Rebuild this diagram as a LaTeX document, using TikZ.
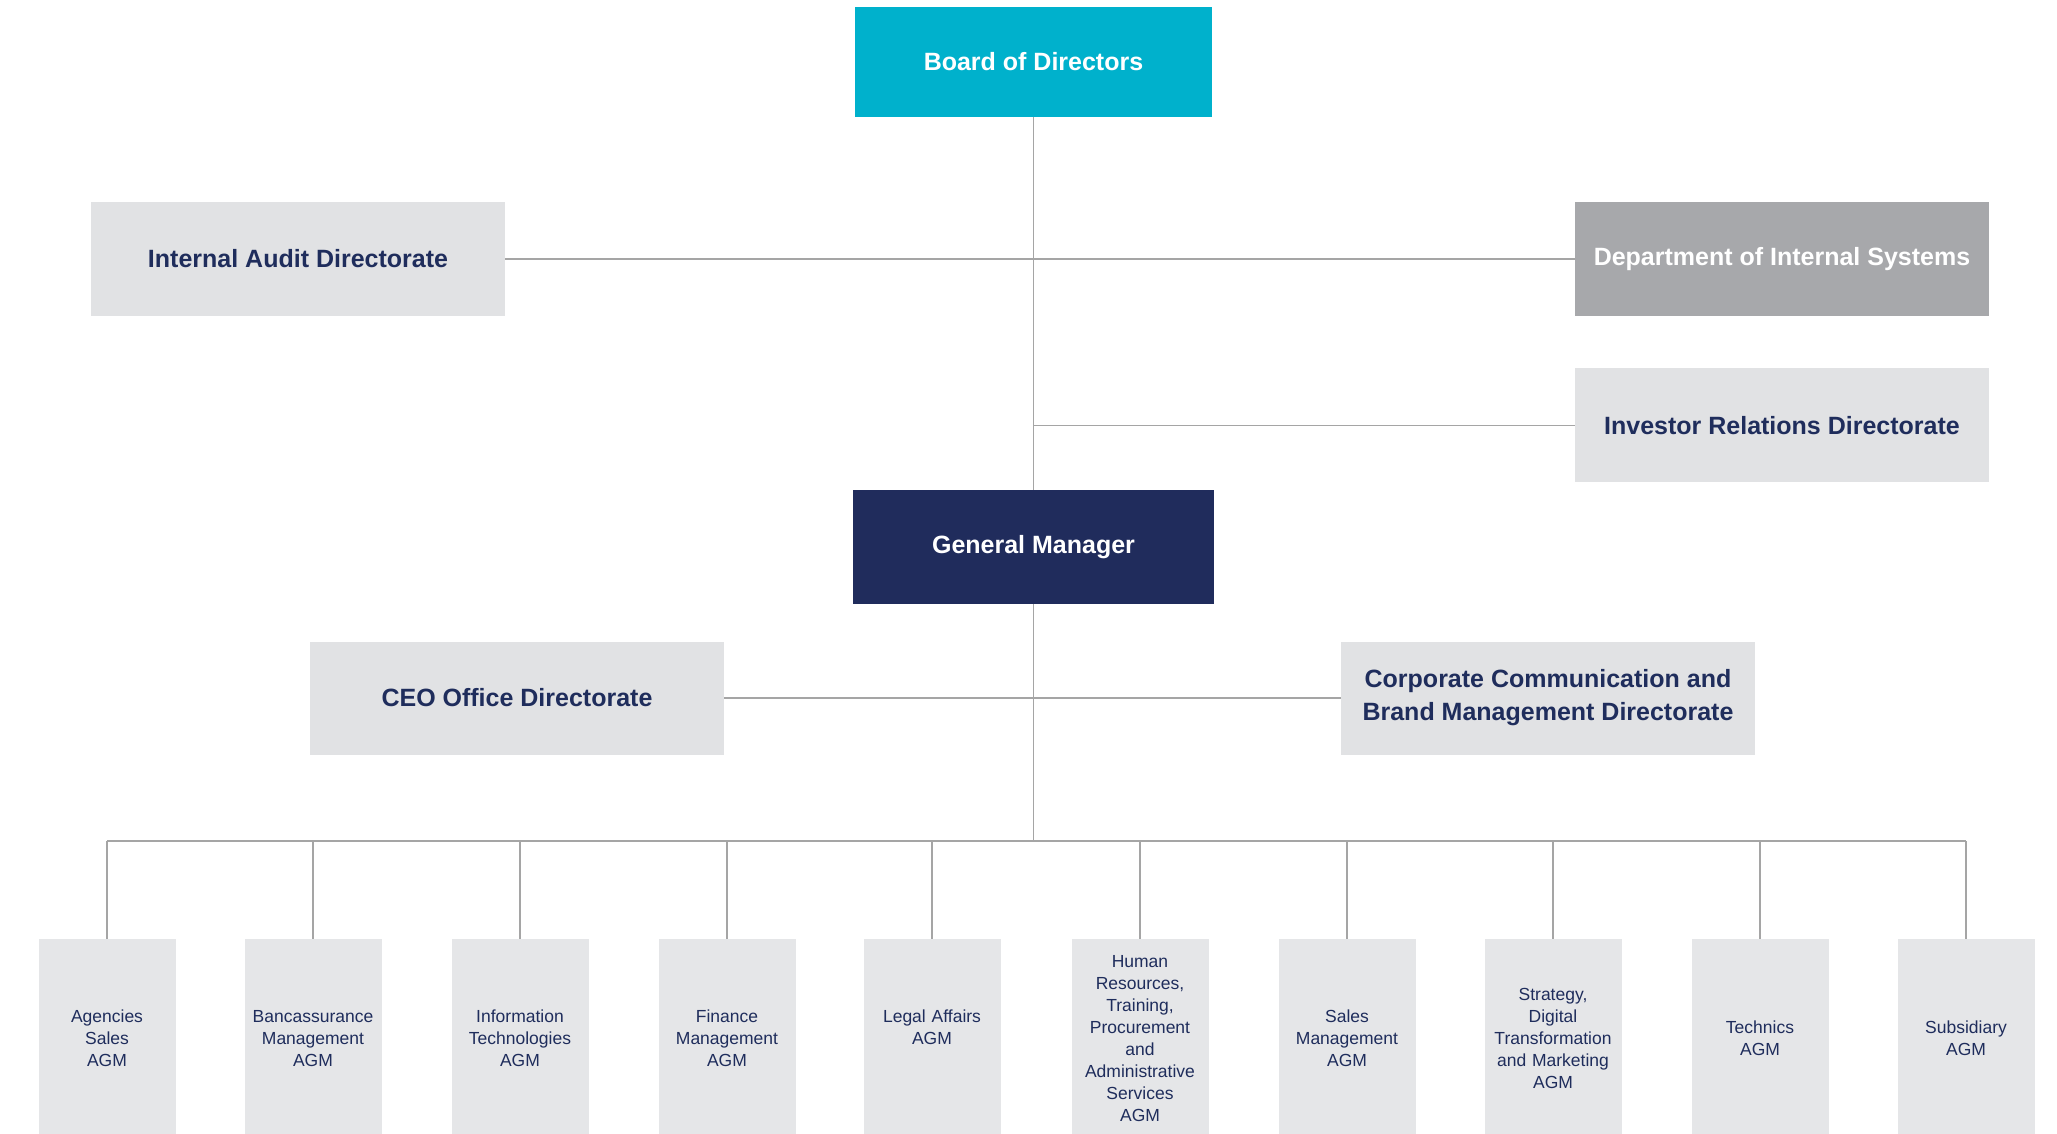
\documentclass[tikz,border=0pt]{standalone}
\usepackage{fontspec}
\setmainfont{Liberation Sans}
\usetikzlibrary{positioning, calc}

\definecolor{boardcyan}{RGB}{0,177,204}
\definecolor{gmnavy}{RGB}{32,44,92}
\definecolor{boxgrey}{RGB}{225,226,228}
\definecolor{agmgrey}{RGB}{229,230,232}
\definecolor{sysgrey}{RGB}{167,168,171}
\definecolor{textnavy}{RGB}{31,45,92}
\definecolor{linegrey}{RGB}{165,165,165}

\begin{document}
\begin{tikzpicture}[x=1pt, y=-1pt,
    link/.style={draw=linegrey, line width=1.4pt},
    unitbox/.style={inner sep=0pt, align=center, minimum height=114pt,
        font=\bfseries\fontsize{25}{33}\selectfont},
    dirbox/.style={unitbox, fill=boxgrey, text=textnavy, minimum width=414pt},
    agmbox/.style={inner sep=0pt, align=center, fill=agmgrey, text=textnavy,
        minimum width=137pt, text width=134pt, minimum height=198pt,
        anchor=north, font=\fontsize{17.5}{22}\selectfont}]

    % Canvas
    \clip (0,0) rectangle (2057,1133);
    \fill[white] (0,0) rectangle (2057,1133);

    % --- Top: board and the units reporting to it ---
    \node[unitbox, fill=boardcyan, text=white, minimum width=357pt,
          minimum height=110pt] (board) at (1033.5,62) {Board of Directors};
    \node[dirbox] (audit) at (298,259) {Internal Audit Directorate};
    \node[unitbox, fill=sysgrey, text=white, minimum width=414pt]
          (systems) at (1782,259) {Department of Internal Systems};
    \node[dirbox, below=52pt of systems] (investor) {Investor Relations Directorate};

    % --- Middle: general manager and staff directorates ---
    \node[unitbox, fill=gmnavy, text=white, minimum width=361pt]
          (gm) at (1033.5,547) {General Manager};
    \node[dirbox, minimum height=113pt] (ceo) at (517,698) {CEO Office Directorate};
    \node[dirbox, minimum height=113pt] (corp) at (1548,698)
          {Corporate Communication and\\Brand Management Directorate};

    \draw[link] (board) -- (gm);
    \draw[link] (audit) -- (systems);
    \draw[link] (board |- investor) -- (investor);
    \draw[link] (ceo) -- (corp);

    % --- Bottom: assistant general managers ---
    \def\busY{841}
    \def\boxY{939}
    \foreach \x/\name/\txt in {
        107/agency/{Agencies\\Sales\\AGM},
        313/banca/{Bancassurance\\Management\\AGM},
        520/infotech/{Information\\Technologies\\AGM},
        727/finance/{Finance\\Management\\AGM},
        932/legal/{Legal Affairs\\AGM\\\mbox{}},
        1140/hr/{Human\\Resources,\\Training,\\Procurement\\and\\Administrative\\Services\\AGM},
        1347/sales/{Sales\\Management\\AGM},
        1553/strategy/{Strategy,\\Digital\\Transformation\\and Marketing\\AGM},
        1760/technics/{Technics\\AGM},
        1966/subsidiary/{Subsidiary\\AGM}}{
        \node[agmbox] (\name) at (\x,\boxY) {\txt};
        \coordinate (bus\name) at (\x,\busY);
        \draw[link] (bus\name) -- (\name.north);
    }
    \draw[link] (busagency) -- (bussubsidiary);
    \draw[link] (gm) -- (gm |- busagency);

\end{tikzpicture}
\end{document}
